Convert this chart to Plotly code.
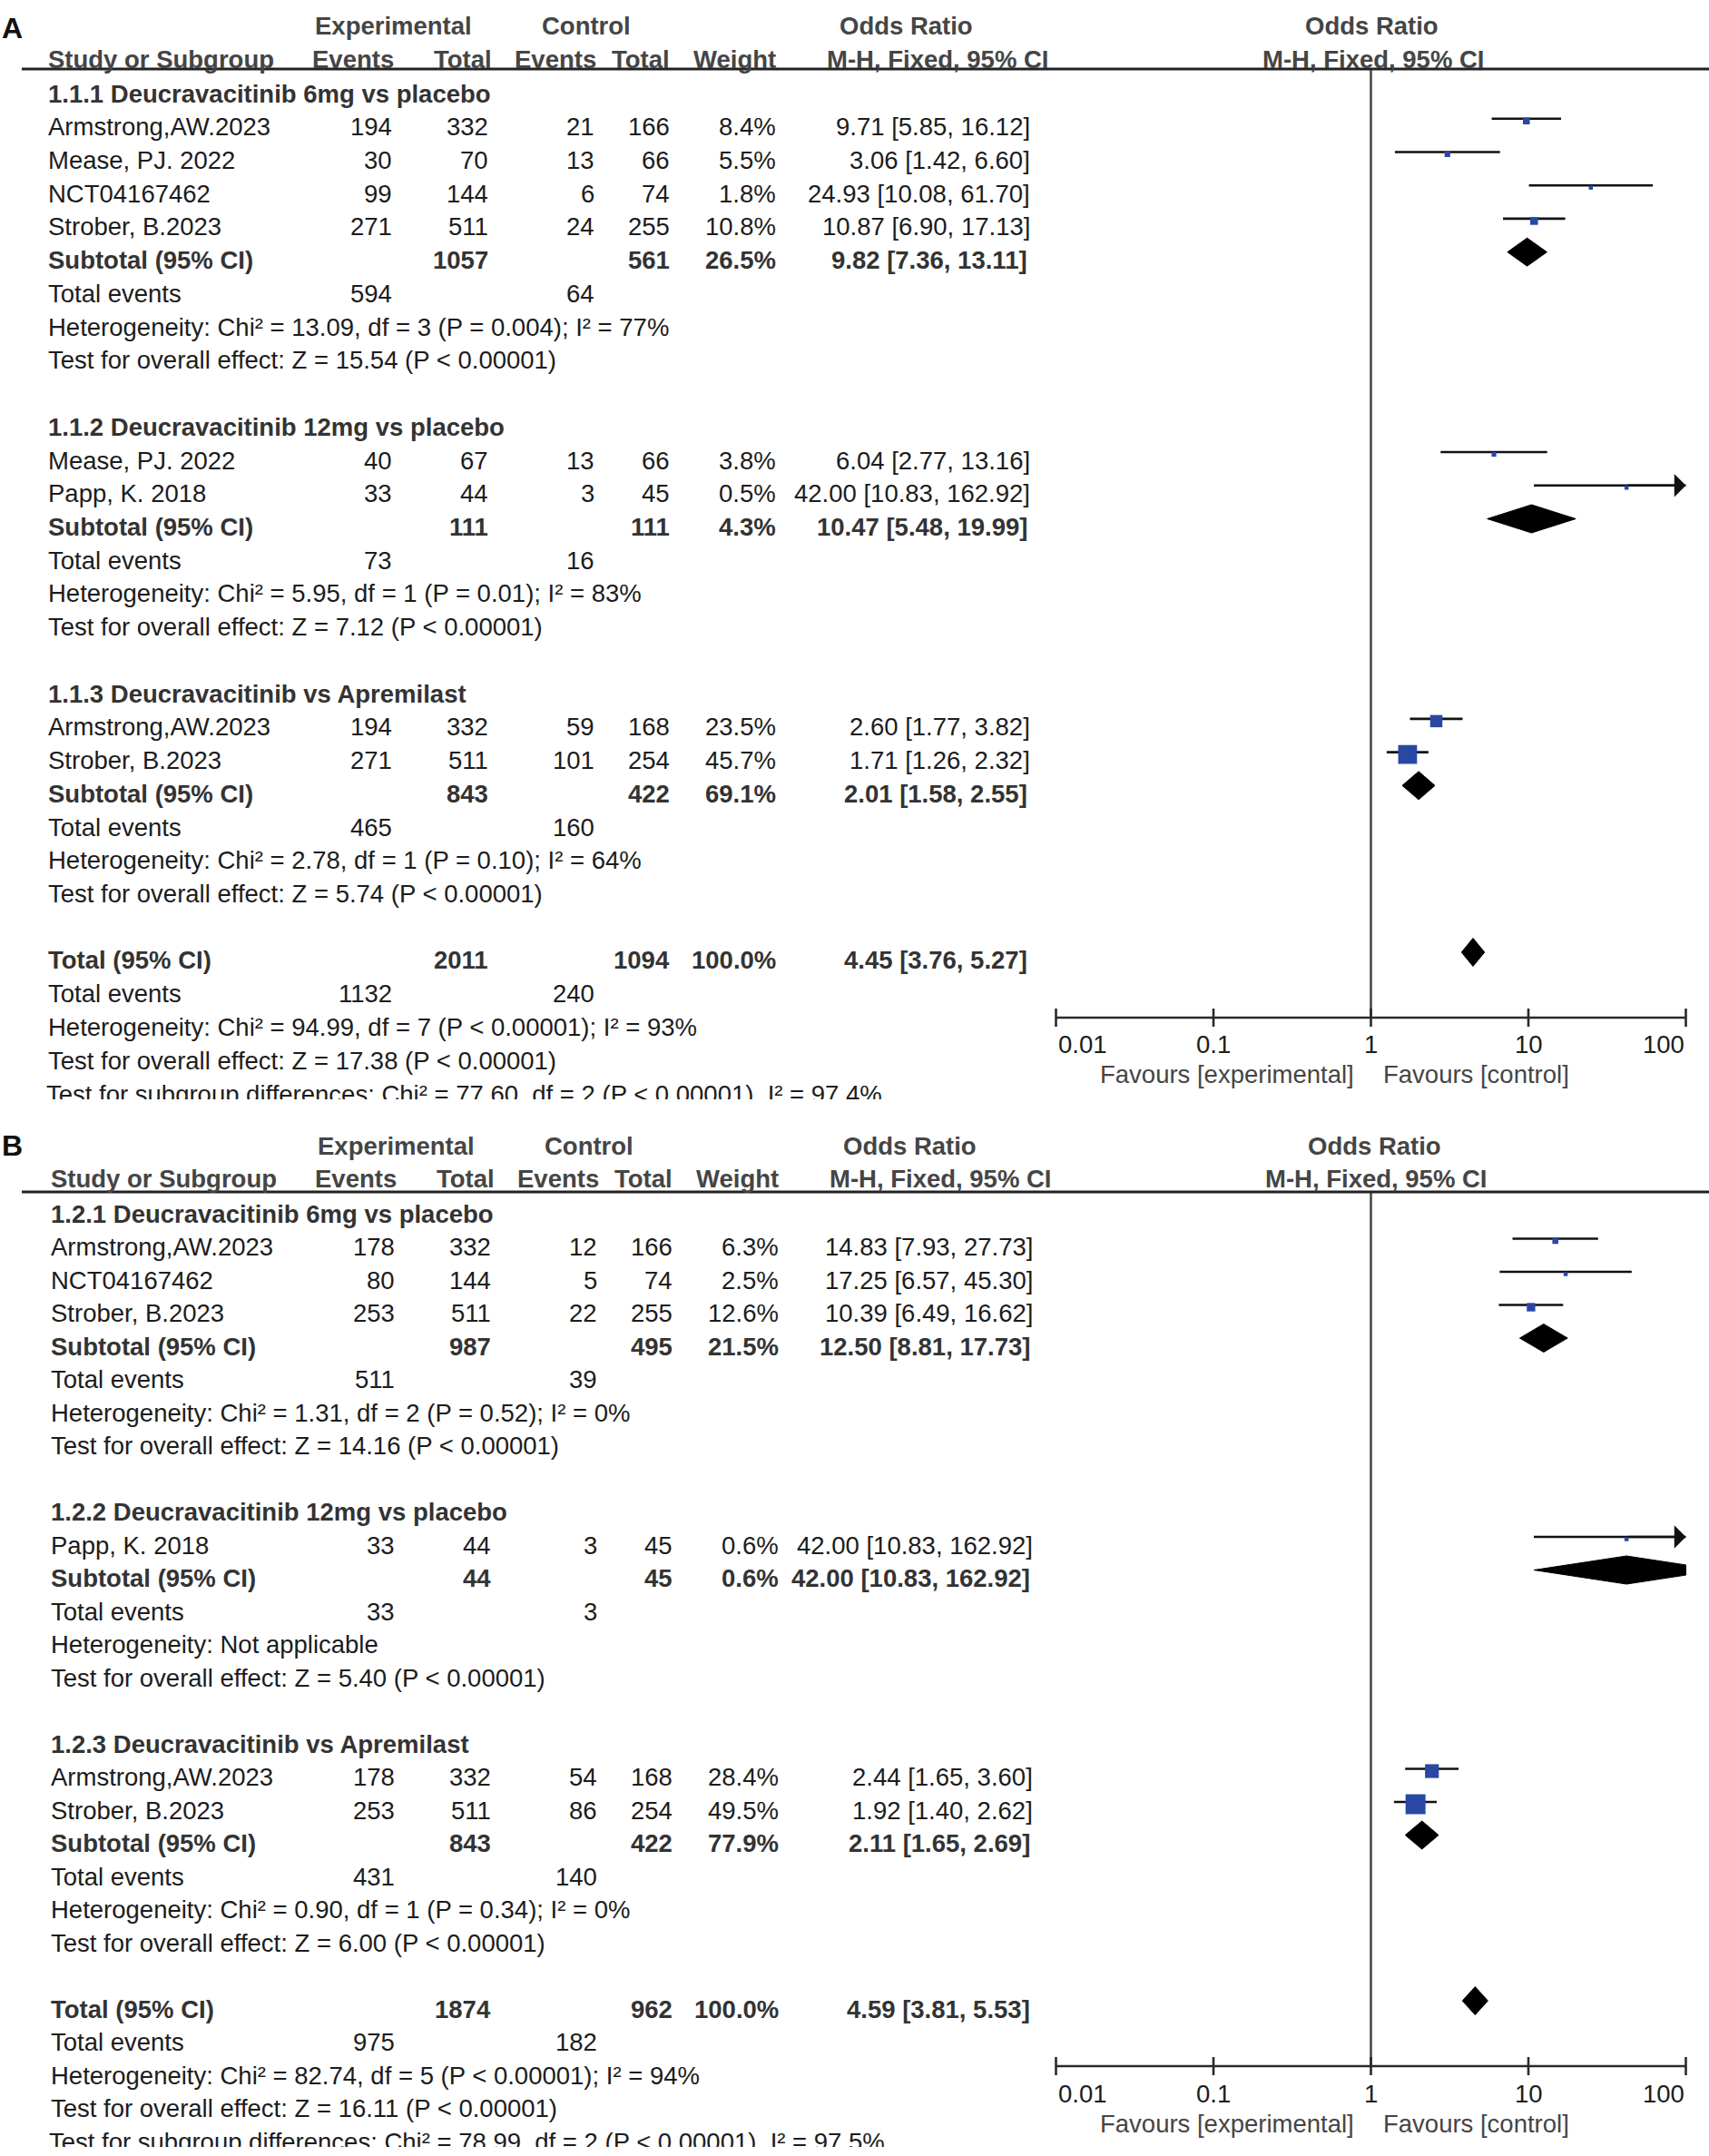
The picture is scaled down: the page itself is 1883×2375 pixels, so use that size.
import math
import plotly.graph_objects as go

# ======================= DATA : panel A =======================
A_group_names = ["1.1.1 Deucravacitinib 6mg vs placebo",
                 "1.1.2 Deucravacitinib 12mg vs placebo",
                 "1.1.3 Deucravacitinib vs Apremilast"]
A_study = ["Armstrong,AW.2023", "Mease, PJ. 2022", "NCT04167462", "Strober, B.2023",
           "Mease, PJ. 2022", "Papp, K. 2018",
           "Armstrong,AW.2023", "Strober, B.2023"]
A_group = [0, 0, 0, 0, 1, 1, 2, 2]
A_exp_events = [194, 30, 99, 271, 40, 33, 194, 271]
A_exp_total = [332, 70, 144, 511, 67, 44, 332, 511]
A_ctl_events = [21, 13, 6, 24, 13, 3, 59, 101]
A_ctl_total = [166, 66, 74, 255, 66, 45, 168, 254]
A_weight = [8.4, 5.5, 1.8, 10.8, 3.8, 0.5, 23.5, 45.7]
A_or = [9.71, 3.06, 24.93, 10.87, 6.04, 42.00, 2.60, 1.71]
A_lo = [5.85, 1.42, 10.08, 6.90, 2.77, 10.83, 1.77, 1.26]
A_hi = [16.12, 6.60, 61.70, 17.13, 13.16, 162.92, 3.82, 2.32]

A_sub_exp_total = [1057, 111, 843]
A_sub_ctl_total = [561, 111, 422]
A_sub_weight = [26.5, 4.3, 69.1]
A_sub_or = [9.82, 10.47, 2.01]
A_sub_lo = [7.36, 5.48, 1.58]
A_sub_hi = [13.11, 19.99, 2.55]
A_sub_exp_events = [594, 73, 465]
A_sub_ctl_events = [64, 16, 160]
A_sub_het = ["Heterogeneity: Chi² = 13.09, df = 3 (P = 0.004); I² = 77%",
             "Heterogeneity: Chi² = 5.95, df = 1 (P = 0.01); I² = 83%",
             "Heterogeneity: Chi² = 2.78, df = 1 (P = 0.10); I² = 64%"]
A_sub_test = ["Test for overall effect: Z = 15.54 (P < 0.00001)",
              "Test for overall effect: Z = 7.12 (P < 0.00001)",
              "Test for overall effect: Z = 5.74 (P < 0.00001)"]

A_tot_exp_total = 2011
A_tot_ctl_total = 1094
A_tot_weight = 100.0
A_tot_or = 4.45
A_tot_lo = 3.76
A_tot_hi = 5.27
A_tot_exp_events = 1132
A_tot_ctl_events = 240
A_tot_het = "Heterogeneity: Chi² = 94.99, df = 7 (P < 0.00001); I² = 93%"
A_tot_test = "Test for overall effect: Z = 17.38 (P < 0.00001)"
A_tot_subdiff = "Test for subgroup differences: Chi² = 77.60, df = 2 (P < 0.00001), I² = 97.4%"

# ======================= DATA : panel B =======================
B_group_names = ["1.2.1 Deucravacitinib 6mg vs placebo",
                 "1.2.2 Deucravacitinib 12mg vs placebo",
                 "1.2.3 Deucravacitinib vs Apremilast"]
B_study = ["Armstrong,AW.2023", "NCT04167462", "Strober, B.2023",
           "Papp, K. 2018",
           "Armstrong,AW.2023", "Strober, B.2023"]
B_group = [0, 0, 0, 1, 2, 2]
B_exp_events = [178, 80, 253, 33, 178, 253]
B_exp_total = [332, 144, 511, 44, 332, 511]
B_ctl_events = [12, 5, 22, 3, 54, 86]
B_ctl_total = [166, 74, 255, 45, 168, 254]
B_weight = [6.3, 2.5, 12.6, 0.6, 28.4, 49.5]
B_or = [14.83, 17.25, 10.39, 42.00, 2.44, 1.92]
B_lo = [7.93, 6.57, 6.49, 10.83, 1.65, 1.40]
B_hi = [27.73, 45.30, 16.62, 162.92, 3.60, 2.62]

B_sub_exp_total = [987, 44, 843]
B_sub_ctl_total = [495, 45, 422]
B_sub_weight = [21.5, 0.6, 77.9]
B_sub_or = [12.50, 42.00, 2.11]
B_sub_lo = [8.81, 10.83, 1.65]
B_sub_hi = [17.73, 162.92, 2.69]
B_sub_exp_events = [511, 33, 431]
B_sub_ctl_events = [39, 3, 140]
B_sub_het = ["Heterogeneity: Chi² = 1.31, df = 2 (P = 0.52); I² = 0%",
             "Heterogeneity: Not applicable",
             "Heterogeneity: Chi² = 0.90, df = 1 (P = 0.34); I² = 0%"]
B_sub_test = ["Test for overall effect: Z = 14.16 (P < 0.00001)",
              "Test for overall effect: Z = 5.40 (P < 0.00001)",
              "Test for overall effect: Z = 6.00 (P < 0.00001)"]

B_tot_exp_total = 1874
B_tot_ctl_total = 962
B_tot_weight = 100.0
B_tot_or = 4.59
B_tot_lo = 3.81
B_tot_hi = 5.53
B_tot_exp_events = 975
B_tot_ctl_events = 182
B_tot_het = "Heterogeneity: Chi² = 82.74, df = 5 (P < 0.00001); I² = 94%"
B_tot_test = "Test for overall effect: Z = 16.11 (P < 0.00001)"
B_tot_subdiff = "Test for subgroup differences: Chi² = 78.99, df = 2 (P < 0.00001), I² = 97.5%"

# axis ticks
TICK_VALUES = [0.01, 0.1, 1, 10, 100]
TICK_LABELS = ["0.01", "0.1", "1", "10", "100"]
NULL_VALUE = 1
FAV_LEFT = "Favours [experimental]"
FAV_RIGHT = "Favours [control]"

# ======================= STYLE / LAYOUT =======================
W, H = 1883, 2375
FONT = "Liberation Sans"
FS = 27.5
C_TEXT = "#1c1c1c"
C_BOLD = "#333333"
C_HEAD = "#454545"
C_BLUE = "#2a47a3"
C_LINE = "#111111"

XMIN, XMAX = TICK_VALUES[0], TICK_VALUES[-1]
AX_L, AX_R = 1163.5, 1857.5
DEC_PX = (AX_R - AX_L) / (math.log10(XMAX) - math.log10(XMIN))
PADPX = 6
PADL = PADPX / DEC_PX

# columns (pixels)
NAME_X = 51
EXPE_R, EXPT_R, CTLE_R, CTLT_R, WT_R, OR_R = 434, 540, 657, 740, 857, 1137
MARK_DY = -9      # CI line relative to text centre
SQ_DY = 2.5       # square relative to CI line
DIA_H = 15.5      # diamond half height

ann = []
shapes = []
traces = []


def sq_size(w):
    return max(4.5, 1.5 + 0.2 * w + 1.5 * math.sqrt(w))


def build_panel(P):
    dx = P["dx"]
    Y = lambda r: P["row0"] + r * P["dy"]

    def T(x, y, s, anchor="left", bold=False, color=C_TEXT, size=FS):
        ann.append(dict(xref="paper", yref="y", x=(x + dx) / W, y=y,
                        text=("<b>%s</b>" % s) if bold else s, showarrow=False,
                        xanchor=anchor, yanchor="middle",
                        font=dict(family=FONT, size=size, color=color)))

    # panel letter
    ann.append(dict(xref="paper", yref="y", x=0.0, y=P["letter_y"], text="<b>%s</b>" % P["letter"],
                    showarrow=False, xanchor="left", yanchor="middle",
                    font=dict(family=FONT, size=32, color="#111111")))
    # header rows
    h1, h2 = P["head1"], P["head2"]
    T(433, h1, "Experimental", "center", True, C_HEAD)
    T(646, h1, "Control", "center", True, C_HEAD)
    T(999, h1, "Odds Ratio", "center", True, C_HEAD)
    T(1511, h1, "Odds Ratio", "center", True, C_HEAD)
    T(NAME_X, h2, "Study or Subgroup", "left", True, C_HEAD)
    T(436, h2, "Events", "right", True, C_HEAD)
    T(544, h2, "Total", "right", True, C_HEAD)
    T(659, h2, "Events", "right", True, C_HEAD)
    T(740, h2, "Total", "right", True, C_HEAD)
    T(857, h2, "Weight", "right", True, C_HEAD)
    T(1033, h2, "M-H, Fixed, 95% CI", "center", True, C_HEAD)
    T(1513, h2, "M-H, Fixed, 95% CI", "center", True, C_HEAD)
    shapes.append(dict(type="line", xref="paper", yref="y", x0=24 / W, x1=1.0,
                       y0=P["line_y"], y1=P["line_y"], line=dict(color="#222222", width=3)))

    ci_x, ci_y, sq_x, sq_y, sq_s, dia_x, dia_y = [], [], [], [], [], [], []

    def add_diamond(o, lo, hi, yc):
        h = DIA_H
        ox, hx = math.log10(o), math.log10(hi)
        xm = math.log10(XMAX)
        if hx > xm:
            f = (xm - ox) / (hx - ox)
            hc = h * (1 - f)
            xs = [lo, o, XMAX, XMAX, o, lo]
            ys = [yc, yc - h, yc - hc, yc + hc, yc + h, yc]
        else:
            xs = [lo, o, hi, o, lo]
            ys = [yc, yc - h, yc, yc + h, yc]
        dia_x.extend(xs + [None])
        dia_y.extend(ys + [None])

    r = 0
    for g in range(len(P["groups"])):
        T(NAME_X, Y(r), P["groups"][g], "left", True, C_BOLD)
        r += 1
        for i in range(len(P["study"])):
            if P["group"][i] != g:
                continue
            y = Y(r)
            T(NAME_X, y, P["study"][i])
            T(EXPE_R, y, str(P["ee"][i]), "right")
            T(EXPT_R, y, str(P["et"][i]), "right")
            T(CTLE_R, y, str(P["ce"][i]), "right")
            T(CTLT_R, y, str(P["ct"][i]), "right")
            T(WT_R, y, "%.1f%%" % P["w"][i], "right")
            T(OR_R, y, "%.2f [%.2f, %.2f]" % (P["or"][i], P["lo"][i], P["hi"][i]), "right")
            ly = y + MARK_DY
            ci_x.extend([P["lo"][i], min(P["hi"][i], XMAX), None])
            ci_y.extend([ly, ly, None])
            sq_x.append(P["or"][i])
            sq_y.append(ly + SQ_DY)
            sq_s.append(sq_size(P["w"][i]))
            if P["hi"][i] > XMAX:
                ann.append(dict(xref="x", yref="y", x=math.log10(XMAX), y=ly,
                                axref="x", ayref="y", ax=math.log10(P["or"][i]), ay=ly,
                                text="", showarrow=True, arrowhead=1, arrowsize=1.7,
                                arrowwidth=2.5, arrowcolor=C_LINE, standoff=0))
            r += 1
        # subtotal
        y = Y(r)
        T(NAME_X, y, "Subtotal (95% CI)", "left", True, C_BOLD)
        T(EXPT_R, y, str(P["s_et"][g]), "right", True, C_BOLD)
        T(CTLT_R, y, str(P["s_ct"][g]), "right", True, C_BOLD)
        T(WT_R, y, "%.1f%%" % P["s_w"][g], "right", True, C_BOLD)
        T(OR_R - 3, y, "%.2f [%.2f, %.2f]" % (P["s_or"][g], P["s_lo"][g], P["s_hi"][g]), "right", True, C_BOLD)
        add_diamond(P["s_or"][g], P["s_lo"][g], P["s_hi"][g], y + MARK_DY)
        r += 1
        y = Y(r)
        T(NAME_X, y, "Total events")
        T(EXPE_R, y, str(P["s_ee"][g]), "right")
        T(CTLE_R, y, str(P["s_ce"][g]), "right")
        r += 1
        T(NAME_X, Y(r), P["s_het"][g])
        r += 1
        T(NAME_X, Y(r), P["s_test"][g])
        r += 2
    # overall total
    y_tot = Y(r)
    T(NAME_X, y_tot, "Total (95% CI)", "left", True, C_BOLD)
    T(EXPT_R, y_tot, str(P["t_et"]), "right", True, C_BOLD)
    T(CTLT_R, y_tot, str(P["t_ct"]), "right", True, C_BOLD)
    T(WT_R, y_tot, "%.1f%%" % P["t_w"], "right", True, C_BOLD)
    T(OR_R - 3, y_tot, "%.2f [%.2f, %.2f]" % (P["t_or"], P["t_lo"], P["t_hi"]), "right", True, C_BOLD)
    add_diamond(P["t_or"], P["t_lo"], P["t_hi"], y_tot + MARK_DY)
    r += 1
    y = Y(r)
    T(NAME_X, y, "Total events")
    T(EXPE_R, y, str(P["t_ee"]), "right")
    T(CTLE_R, y, str(P["t_ce"]), "right")
    r += 1
    T(NAME_X, Y(r), P["t_het"])
    r += 1
    T(NAME_X, Y(r), P["t_test"])
    r += 1
    # last line (partly cut off in the original) as a text trace
    y_last = Y(r)
    traces.append(go.Scatter(x=[NAME_X + dx], y=[y_last + 3], mode="text", text=[P["t_sub"]],
                             textposition="middle right", xaxis="x2", yaxis="y",
                             textfont=dict(family=FONT, size=FS, color=C_TEXT),
                             hoverinfo="skip", cliponaxis=False))
    shapes.append(dict(type="rect", xref="paper", yref="y", x0=0, x1=1,
                       y0=y_last + 6, y1=y_last + 36, fillcolor="white",
                       line=dict(width=0), layer="above"))

    axis_y = y_tot + 63
    lab_y = y_tot + 93
    fav_y = y_tot + 126

    # null line
    traces.append(go.Scatter(x=[NULL_VALUE, NULL_VALUE], y=[P["line_y"], axis_y], mode="lines",
                             line=dict(color="#4a4a4a", width=2.6), hoverinfo="skip"))
    # CI lines
    traces.append(go.Scatter(x=ci_x, y=ci_y, mode="lines", line=dict(color=C_LINE, width=2.6),
                             hoverinfo="skip"))
    # squares
    traces.append(go.Scatter(x=sq_x, y=sq_y, mode="markers",
                             marker=dict(symbol="square", size=sq_s, color=C_BLUE, opacity=1,
                                         line=dict(width=0)),
                             hoverinfo="skip", cliponaxis=False))
    # diamonds
    traces.append(go.Scatter(x=dia_x, y=dia_y, mode="lines", fill="toself", fillcolor="#000000",
                             line=dict(color="#000000", width=1), hoverinfo="skip"))
    # axis line + ticks
    ax_x = [XMIN, XMAX, None]
    ax_yv = [axis_y, axis_y, None]
    for t in TICK_VALUES:
        ax_x.extend([t, t, None])
        ax_yv.extend([axis_y - 10, axis_y + 10, None])
    traces.append(go.Scatter(x=ax_x, y=ax_yv, mode="lines", line=dict(color="#2a2a2a", width=2.6),
                             hoverinfo="skip"))
    for k, (t, lab) in enumerate(zip(TICK_VALUES, TICK_LABELS)):
        anchor = "left" if k == 0 else ("right" if k == len(TICK_VALUES) - 1 else "center")
        ann.append(dict(xref="x", yref="y", x=math.log10(t), y=lab_y, text=lab, showarrow=False,
                        xanchor=anchor, yanchor="middle",
                        font=dict(family=FONT, size=FS, color=C_TEXT)))
    ann.append(dict(xref="paper", yref="y", x=1494 / W, y=fav_y, text=FAV_LEFT, showarrow=False,
                    xanchor="right", yanchor="middle", font=dict(family=FONT, size=FS, color=C_HEAD)))
    ann.append(dict(xref="paper", yref="y", x=1522 / W, y=fav_y, text=FAV_RIGHT, showarrow=False,
                    xanchor="left", yanchor="middle", font=dict(family=FONT, size=FS, color=C_HEAD)))


PANEL_A = dict(letter="A", dx=0, row0=103, dy=36.73, letter_y=31, head1=28, head2=65, line_y=76,
               groups=A_group_names, study=A_study, group=A_group, ee=A_exp_events, et=A_exp_total,
               ce=A_ctl_events, ct=A_ctl_total, w=A_weight, lo=A_lo, hi=A_hi,
               s_et=A_sub_exp_total, s_ct=A_sub_ctl_total, s_w=A_sub_weight, s_or=A_sub_or,
               s_lo=A_sub_lo, s_hi=A_sub_hi, s_ee=A_sub_exp_events, s_ce=A_sub_ctl_events,
               s_het=A_sub_het, s_test=A_sub_test,
               t_et=A_tot_exp_total, t_ct=A_tot_ctl_total, t_w=A_tot_weight, t_or=A_tot_or,
               t_lo=A_tot_lo, t_hi=A_tot_hi, t_ee=A_tot_exp_events, t_ce=A_tot_ctl_events,
               t_het=A_tot_het, t_test=A_tot_test, t_sub=A_tot_subdiff)
PANEL_A["or"] = A_or
PANEL_B = dict(letter="B", dx=3, row0=1337, dy=36.5, letter_y=1262, head1=1262, head2=1298, line_y=1313,
               groups=B_group_names, study=B_study, group=B_group, ee=B_exp_events, et=B_exp_total,
               ce=B_ctl_events, ct=B_ctl_total, w=B_weight, lo=B_lo, hi=B_hi,
               s_et=B_sub_exp_total, s_ct=B_sub_ctl_total, s_w=B_sub_weight, s_or=B_sub_or,
               s_lo=B_sub_lo, s_hi=B_sub_hi, s_ee=B_sub_exp_events, s_ce=B_sub_ctl_events,
               s_het=B_sub_het, s_test=B_sub_test,
               t_et=B_tot_exp_total, t_ct=B_tot_ctl_total, t_w=B_tot_weight, t_or=B_tot_or,
               t_lo=B_tot_lo, t_hi=B_tot_hi, t_ee=B_tot_exp_events, t_ce=B_tot_ctl_events,
               t_het=B_tot_het, t_test=B_tot_test, t_sub=B_tot_subdiff)
PANEL_B["or"] = B_or

build_panel(PANEL_A)
build_panel(PANEL_B)

fig = go.Figure(data=traces)
fig.update_layout(
    width=W, height=H, margin=dict(l=0, r=0, t=0, b=0),
    paper_bgcolor="white", plot_bgcolor="rgba(0,0,0,0)",
    showlegend=False, hovermode=False,
    xaxis=dict(type="log", range=[math.log10(XMIN) - PADL, math.log10(XMAX) + PADL],
               domain=[(AX_L - PADPX) / W, (AX_R + PADPX) / W], visible=False, fixedrange=True,
               anchor="y"),
    xaxis2=dict(range=[0, W], domain=[0, 1], visible=False, fixedrange=True, anchor="y"),
    yaxis=dict(range=[H, 0], domain=[0, 1], visible=False, fixedrange=True, anchor="x"),
    annotations=ann, shapes=shapes,
)
fig.write_html("out.html", config={"displayModeBar": False},
               post_script="document.body.style.margin='0px';document.body.style.padding='0px';")
